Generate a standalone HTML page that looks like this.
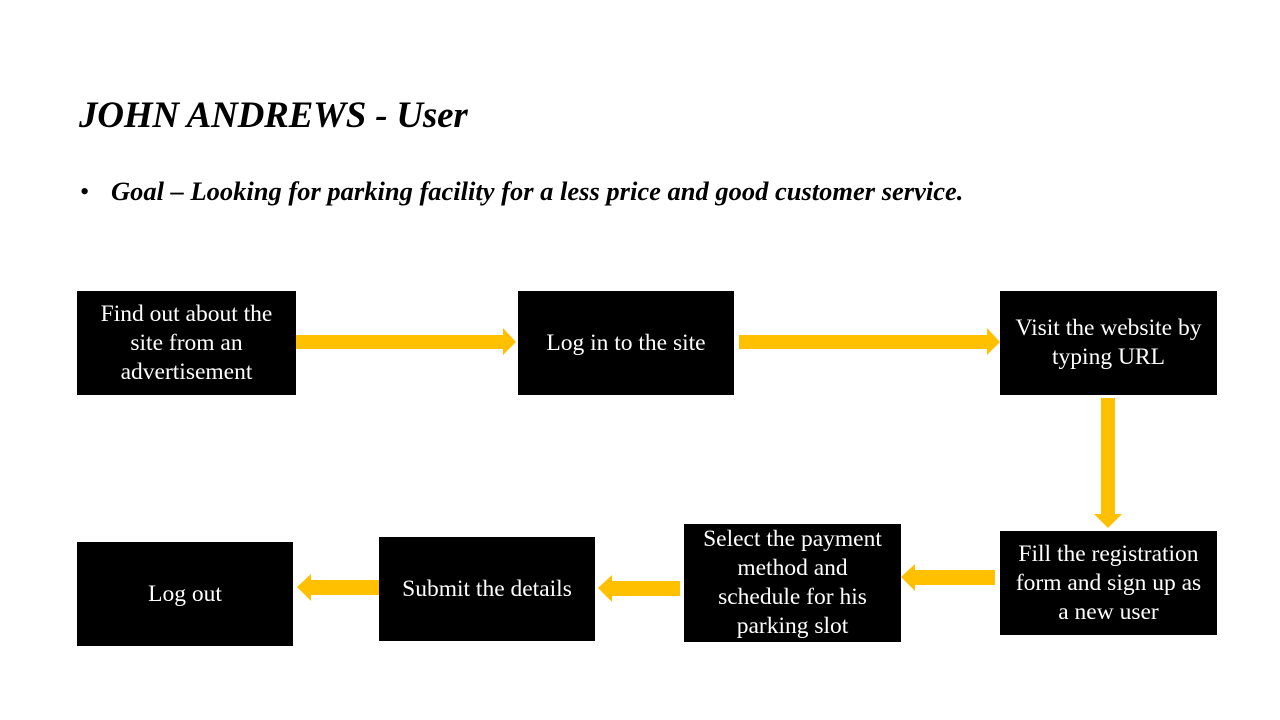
<!DOCTYPE html>
<html><head><style>
body{margin:0;width:1280px;height:720px;background:#fff;position:relative;overflow:hidden;font-family:"Liberation Serif",serif}
.t{position:absolute;left:79px;top:94px;font-size:37px;font-weight:bold;font-style:italic;color:#000;white-space:nowrap;letter-spacing:-0.2px}
.g{position:absolute;left:80px;top:176px;font-size:26.5px;font-weight:bold;font-style:italic;color:#000;white-space:nowrap;letter-spacing:0px}
.g span{font-style:normal;font-weight:normal;display:inline-block;width:31px}
.b{position:absolute;background:#000;color:#fff;font-size:23.5px;line-height:29px;display:flex;align-items:center;justify-content:center;text-align:center;white-space:nowrap}
svg{position:absolute;left:0;top:0}
</style></head><body>
<div class="t">JOHN ANDREWS - User</div>
<div class="g"><span>•</span>Goal – Looking for parking facility for a less price and good customer service.</div>
<div class="b" style="left:77px;top:291px;width:219px;height:104px">Find out about the<br>site from an<br>advertisement</div>
<div class="b" style="left:518px;top:291px;width:216px;height:104px">Log in to the site</div>
<div class="b" style="left:1000px;top:291px;width:217px;height:104px">Visit the website by<br>typing URL</div>
<div class="b" style="left:1000px;top:531px;width:217px;height:104px">Fill the registration<br>form and sign up as<br>a new user</div>
<div class="b" style="left:684px;top:524px;width:217px;height:118px">Select the payment<br>method and<br>schedule for his<br>parking slot</div>
<div class="b" style="left:379px;top:537px;width:216px;height:104px">Submit the details</div>
<div class="b" style="left:77px;top:542px;width:216px;height:104px">Log out</div>
<svg width="1280" height="720" fill="#FFC000">
<polygon points="296,335 503,335 503,328 516,342 503,355 503,349 296,349"/>
<polygon points="739,335 987,335 987,328 1000,342 987,355 987,349 739,349"/>
<polygon points="1101,398 1115,398 1115,514 1122,514 1108,528 1094,514 1101,514"/>
<polygon points="995,570 915,570 915,564 901,577 915,591 915,585 995,585"/>
<polygon points="680,581 612,581 612,575 598,588 612,602 612,596 680,596"/>
<polygon points="379,580 311,580 311,574 297,587 311,601 311,595 379,595"/>
</svg>
</body></html>
